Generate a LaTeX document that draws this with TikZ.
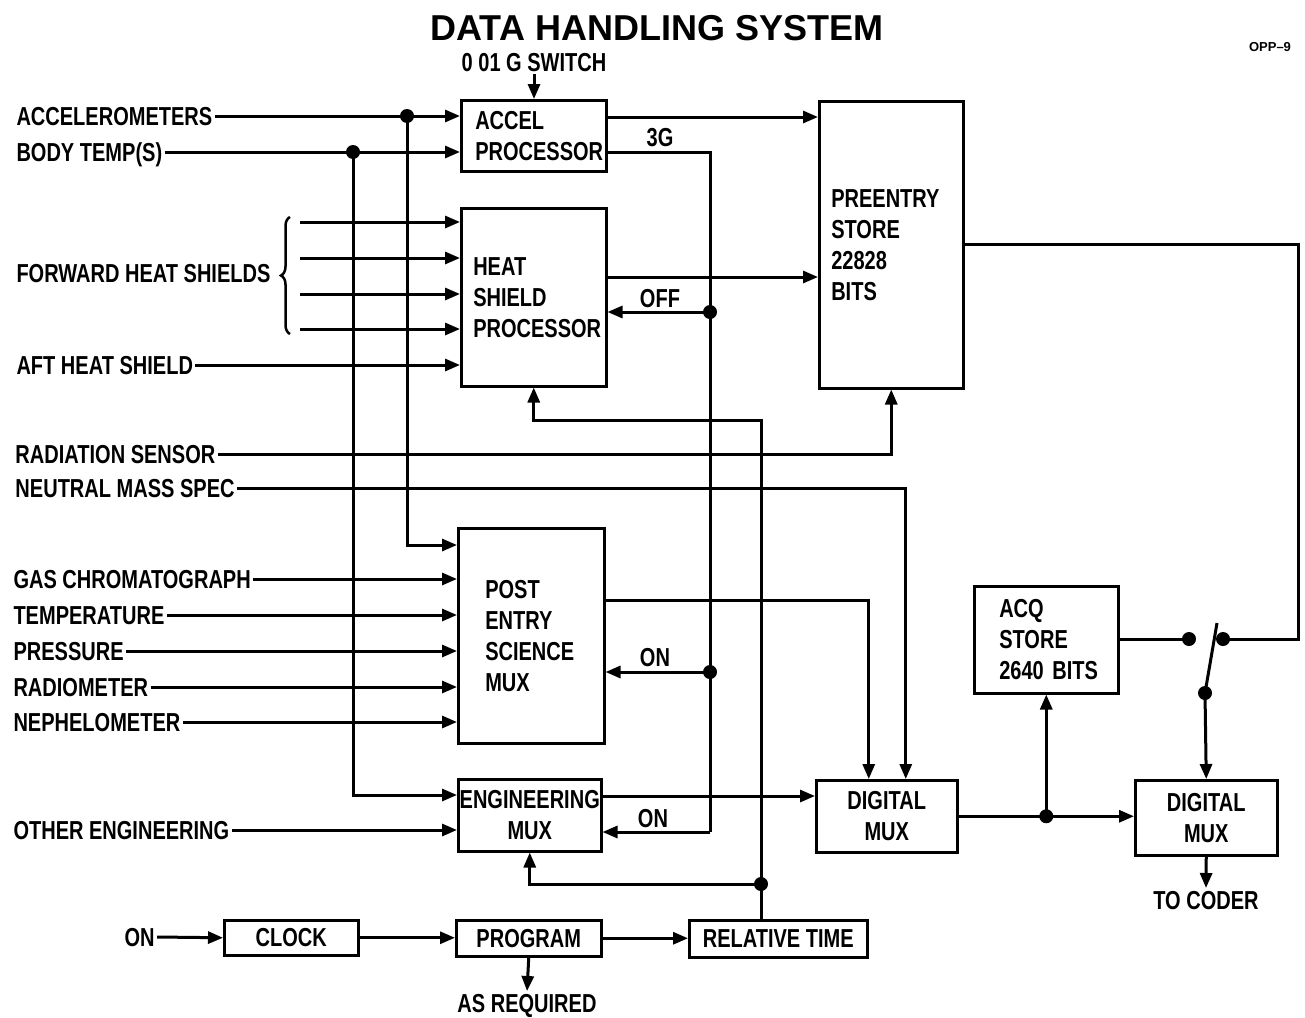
\documentclass[tikz,border=0pt]{standalone}
\usepackage{fontspec}
\setmainfont{Liberation Sans}[FakeStretch=0.77]
\newfontfamily\titlefont{Liberation Sans}
\usetikzlibrary{arrows.meta,calc,positioning,decorations.pathreplacing}
\hyphenpenalty=10000
\exhyphenpenalty=10000

\tikzset{
  blk/.style={draw,line width=2.5pt,anchor=north west,inner ysep=2pt},
  lbl/.style={inner sep=1pt,text height=19pt,text depth=0pt},
  arr/.style={-{Triangle[length=15pt,width=12pt]}},
}

\begin{document}
\begin{tikzpicture}[x=1pt,y=-1pt,line width=3pt,font=\fontsize{26}{31}\selectfont\bfseries]
\fill[white] (0,0) rectangle (1305,1017);
\useasboundingbox (0,0) rectangle (1305,1017);

% titles
\node[font=\titlefont\fontsize{36}{40}\selectfont\bfseries] (title) at (657,28) {DATA HANDLING SYSTEM};
\node[font=\titlefont\fontsize{13}{15}\selectfont\bfseries] (opp) at (1270,47) {OPP–9};

% boxes
\node[blk,minimum width=145pt,minimum height=71pt,text width=117pt,align=left,inner xsep=14pt] (accel) at (460,99) {ACCEL\\PROCESSOR};
\node[blk,minimum width=145pt,minimum height=178pt,text width=121pt,align=left,inner xsep=12pt] (heat) at (460,207) {HEAT\\SHIELD\\PROCESSOR};
\node[blk,minimum width=144pt,minimum height=287pt,text width=120pt,align=left,inner xsep=12pt] (pre) at (818,100) {PREENTRY\\STORE\\22828\\BITS};
\node[blk,minimum width=146pt,minimum height=215pt,text width=92pt,align=left,inner xsep=27pt] (post) at (457,527) {POST\\ENTRY\\SCIENCE\\MUX};
\node[blk,minimum width=143pt,minimum height=72pt,align=center,inner xsep=0pt] (eng) at (457,778) {ENGINEERING\\MUX};
\node[blk,minimum width=141pt,minimum height=72pt,align=center] (dmux) at (815,779) {DIGITAL\\MUX};
\node[blk,minimum width=144pt,minimum height=107pt,text width=94pt,align=left,inner xsep=25pt] (acq) at (973,585) {ACQ\\STORE\\2640~BITS};
\node[blk,minimum width=142pt,minimum height=75pt,align=center] (dmux2) at (1134,779) {DIGITAL\\MUX};
\node[blk,minimum width=134pt,minimum height=35pt] (clock) at (223,919) {CLOCK};
\node[blk,minimum width=145pt,minimum height=36pt] (prog) at (455,919) {PROGRAM};
\node[blk,minimum width=178pt,minimum height=37pt,inner xsep=0pt] (rel) at (688,919) {RELATIVE TIME};

% inputs
\node[lbl] (gsw) at (534,62) {0 01 G SWITCH};
\node[lbl,anchor=west] (accm) at (14,116) {ACCELEROMETERS};
\node[lbl,anchor=west] (btmp) at (14,152) {BODY TEMP(S)};
\node[lbl,anchor=west] (fwd) at (14,273) {FORWARD HEAT SHIELDS};
\node[lbl,anchor=west] (aft) at (14,365) {AFT HEAT SHIELD};
\node[lbl,anchor=west] (rad) at (13,454) {RADIATION SENSOR};
\node[lbl,anchor=west] (nms) at (13,488) {NEUTRAL MASS SPEC};
\node[lbl,anchor=west] (oeng) at (11,830) {OTHER ENGINEERING};
\node[lbl,anchor=west] (on) at (122,937) {ON};
\node[lbl] (coder) at (1206,900) {TO CODER};
\node[lbl] (asreq) at (527,1003) {AS REQUIRED};
\node[lbl] (l3g) at (660,137) {3G};
\node[lbl] (loff) at (660,298) {OFF};
\node[lbl] (lon) at (655,657) {ON};
\node[lbl] (lon2) at (653,818) {ON};

\coordinate (ja) at (407,116);
\coordinate (jb) at (353,152);
\coordinate (s3g) at (710,152);
\coordinate (toff) at (710,312);
\coordinate (ton) at (710,672);
\coordinate (ton2) at (710,832);
\coordinate (hsb) at (761,420);
\coordinate (rt) at (761,884);
\coordinate (swa) at (1189,639);
\coordinate (swb) at (1223,639);
\coordinate (swc) at (1205,693);
\coordinate (swr) at (1298,639);
\coordinate (jd) at (dmux.east -| acq.south);

% accel processor
\draw[arr] (gsw.south) -- (gsw.south |- accel.north);
\draw[arr] (accm.east) -- (accm -| accel.west);
\draw[arr] (btmp.east) -- (btmp -| accel.west);
\draw[arr] (ja) |- ([yshift=-18pt]post.north west);
\draw[arr] (jb) |- ([yshift=-17pt]eng.north west);
\draw[arr] ([yshift=-18pt]accel.north east) coordinate (a1) -- (a1 -| pre.west);

% heat shields
\foreach \yy [count=\i] in {222,258,294,329} {
  \coordinate (fh\i) at (300,\yy);
  \draw[arr] (fh\i) -- (fh\i -| heat.west);
}
\draw[decorate,decoration={brace,amplitude=9pt},line width=2.5pt] (290,334) -- (290,217);
\draw[arr] (aft.east) -- (aft -| heat.west);
\draw[arr] ([yshift=-70pt]heat.north east) coordinate (h1) -- (h1 -| pre.west);

% 3G line
\draw (s3g -| accel.east) -- (s3g) -- (ton2);
\draw[arr] (ton2) -- (ton2 -| eng.east);
\draw[arr] (toff) -- (toff -| heat.east);
\draw[arr] (ton) -- (ton -| post.east);

% relative time
\draw[arr] (rel.north -| rt) -- (hsb) -| (heat.south);
\draw[arr] (rt) -| (eng.south);

\draw[arr] (rad.east) -| (pre.south);
\draw[arr] (nms.east) -| ([xshift=19pt]dmux.north);

% post entry science
\foreach \nm/\txt/\yy in {gas/GAS CHROMATOGRAPH/579,temp/TEMPERATURE/615,pres/PRESSURE/651,radm/RADIOMETER/687,neph/NEPHELOMETER/722} {
  \node[lbl,anchor=west] (\nm) at (11,\yy) {\txt};
  \draw[arr] (\nm.east) -- (\nm -| post.west);
}
\draw[arr] ([yshift=-73pt]post.north east) -| ([xshift=-18pt]dmux.north);

\draw[arr] (oeng.east) -- (oeng -| eng.west);
\draw[arr] ([yshift=-18pt]eng.north east) coordinate (e1) -- (e1 -| dmux.west);

% output side
\draw[arr] (dmux.east) -- (jd -| dmux2.west);
\draw[arr] (jd) -- (acq.south);
\draw (acq.east) -- (acq.east -| swa);
\draw (pre.east) -| (swr) -- (swb);
\draw (swc) -- ++(12,-70);
\draw[arr] (swc) -- (dmux2.north);
\draw[arr] (dmux2.south) -- (coder.north);

% clock chain
\draw[arr] (on.east) -- (clock.west);
\draw[arr] (clock.east) -- (clock.east -| prog.west);
\draw[arr] (prog.east) -- (prog.east -| rel.west);
\draw[arr] (prog.south) -- (asreq.north);

% dots
\foreach \p in {ja,jb,toff,ton,rt,jd,swa,swb,swc}
  \fill (\p) circle (7pt);
\end{tikzpicture}
\end{document}
